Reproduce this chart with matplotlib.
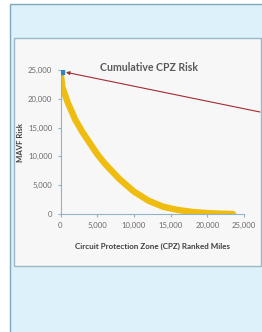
# Cumulative CPZ risk curve, small panel version
import matplotlib.pyplot as plt
from matplotlib.patches import Rectangle

plt.rcParams['font.family'] = ['Lato', 'DejaVu Sans']

# data
miles = [0, 250, 1000, 2000, 3000, 4000, 5000, 6000, 8000, 10000,
         12000, 14000, 16000, 18000, 20000, 22000, 23500]
risk = [24800, 22000, 19300, 16400, 14200, 12300, 10400, 8800, 6100, 3900,
        2300, 1250, 700, 350, 150, 50, 0]
xticks = [0, 5000, 10000, 15000, 20000, 25000]
yticks = [0, 5000, 10000, 15000, 20000, 25000]

W, H = 262, 332
fig = plt.figure(figsize=(W / 100, H / 100), dpi=100)
fig.patch.set_facecolor('white')

def px_rect(x0, y0, x1, y1, fc, ec, lw=1.0):
    # rectangle given in pixel coords (origin top-left)
    r = Rectangle((x0 / W, 1 - y1 / H), (x1 - x0) / W, (y1 - y0) / H,
                  transform=fig.transFigure, facecolor=fc, edgecolor=ec,
                  linewidth=lw, zorder=0)
    fig.add_artist(r)

px_rect(10, 4, 263, 333, '#ddf1fa', '#7fa9bb', 1.0)
px_rect(14, 38, 261, 266, '#f7f7f7', '#9ab7c4', 1.0)

ax = fig.add_axes([60.5 / W, 1 - 214 / H, (244 - 60.5) / W, (214 - 70) / H])
ax.set_facecolor('none')
ax.plot(miles, risk, color='#efbc10', linewidth=4.6, solid_capstyle='round', zorder=2)
ax.plot(miles[0], risk[0], 's', color='#2e86c8', markersize=4, zorder=3)

ax.set_xlim(0, 25000)
ax.set_ylim(0, 25000)
ax.set_xticks(xticks)
ax.set_yticks(yticks)
ax.set_xticklabels([f'{v:,}' for v in xticks])
ax.set_yticklabels([f'{v:,}' for v in yticks])
ax.tick_params(labelsize=5.6, colors='#8fb4c8', labelcolor='#6a6a6a', length=2.5, width=0.8)
ax.tick_params(axis='x', pad=3)
for s in ['top', 'right']:
    ax.spines[s].set_visible(False)
for s in ['left', 'bottom']:
    ax.spines[s].set_color('#8fb4c8')
    ax.spines[s].set_linewidth(0.8)

ax.set_title('Cumulative CPZ Risk', fontsize=7.6, fontweight='bold', color='#595959',
             x=0.48, y=0.99, pad=0)
ax.set_ylabel('MAVF Risk', fontsize=5.6, fontweight='bold', color='#404040', labelpad=3)
ax.set_xlabel('Circuit Protection Zone (CPZ) Ranked Miles', fontsize=5.8,
              fontweight='bold', color='#404040', labelpad=10)

ax.annotate('', xy=(miles[0], risk[0]), xycoords='data',
            xytext=(260 / W, 1 - 112 / H), textcoords='figure fraction',
            arrowprops=dict(arrowstyle='-|>', color='#a32b31', lw=0.8,
                            mutation_scale=5, shrinkA=0, shrinkB=4),
            annotation_clip=False)

fig.savefig('out.png', dpi=100)
